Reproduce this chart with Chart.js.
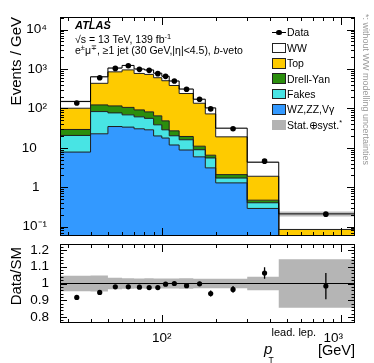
<!DOCTYPE html>
<html>
<head>
<meta charset="utf-8">
<script src="https://cdn.jsdelivr.net/npm/chart.js@4.4.1/dist/chart.umd.min.js"></script>
<style>
  body { margin: 0; background: #fff; }
  #wrap { position: relative; width: 374px; height: 363px; overflow: hidden; font-family: "Liberation Sans", Arial, sans-serif; }
  canvas { position: absolute; left: 0; }
  .t { position: absolute; white-space: nowrap; line-height: 1; color: #000; }
  .t sup { font-size: 0.7em; vertical-align: 0.5em; line-height: 0; }
  .lg { font-size: 10.5px; left: 287px; }
  .box { position: absolute; left: 272px; width: 13.5px; height: 10.5px; box-sizing: border-box; border: 1px solid #222; }
</style>
</head>
<body>
<div id="wrap">
  <canvas id="main" width="374" height="240" style="top:0"></canvas>
  <canvas id="ratio" width="374" height="123" style="top:240px"></canvas>

  <div class="t" style="left:75px;top:20.3px;font-size:11px;font-weight:bold;font-style:italic;">ATLAS</div>
  <div class="t" style="left:75px;top:33.9px;font-size:10.5px;">√s = 13 TeV, 139 fb<sup>-1</sup></div>
  <div class="t" style="left:75px;top:44.6px;font-size:10.5px;">e<sup>±</sup>μ<sup>∓</sup>, ≥1 jet (30 GeV,|η|&lt;4.5), <i>b</i>-veto</div>

  <div style="position:absolute;left:272px;top:32px;width:14px;height:1px;background:#000"></div>
  <div style="position:absolute;left:276.3px;top:29.8px;width:5.4px;height:5.4px;border-radius:50%;background:#000"></div>
  <div class="t lg" style="top:27.4px">Data</div>
  <div class="box" style="top:42.6px;background:#fff"></div>
  <div class="t lg" style="top:42.8px">WW</div>
  <div class="box" style="top:58px;background:#fecb00"></div>
  <div class="t lg" style="top:58.2px">Top</div>
  <div class="box" style="top:73.4px;background:#2b8e0d"></div>
  <div class="t lg" style="top:73.6px">Drell-Yan</div>
  <div class="box" style="top:88.8px;background:#48e4e4"></div>
  <div class="t lg" style="top:89px">Fakes</div>
  <div class="box" style="top:104.2px;background:#3399ff"></div>
  <div class="t lg" style="top:104.4px">WZ,ZZ,Vγ</div>
  <div class="box" style="top:119.6px;background:#b3b3b3;border:none"></div>
  <div class="t lg" style="top:119.8px">Stat.⊕syst.<sup>*</sup></div>

  <div class="t" style="left:8.3px;top:167px;width:150px;text-align:right;font-size:15px;transform-origin:0 0;transform:rotate(-90deg);">Events / GeV</div>
  <div class="t" style="left:8.3px;top:397px;width:150px;text-align:right;font-size:15px;transform-origin:0 0;transform:rotate(-90deg);">Data/SM</div>
  <div class="t" style="left:369.5px;top:14px;font-size:9px;color:#999;transform-origin:0 0;transform:rotate(90deg);">*: without WW modelling uncertainties</div>

  <div class="t" style="left:264px;top:341.3px;font-size:15px;font-style:italic;">p</div>
  <div class="t" style="left:268.5px;top:355.8px;font-size:8.5px;">T</div>
  <div class="t" style="left:271.5px;top:326.7px;font-size:11px;">lead. lep.</div>
  <div class="t" style="left:318px;top:342.7px;font-size:14.5px;">[GeV]</div>
</div>

<script>
// bin edges in GeV (lead. lepton pT)
const edges = [27, 40, 50, 60, 70, 80, 90, 100, 110, 125, 150, 175, 200, 300, 450, 1200];

// stacked backgrounds, events / GeV
const wzZZVgamma = [7.8, 22.7, 34.7, 33.5, 30.4, 28.6, 20.0, 17.7, 11.8, 8.8, 5.9, 3.1, 1.29, 0.29, 0.02];
const fakes      = [12.8, 60.3, 42.2, 35.0, 30.6, 27.3, 18.3, 10.9, 8.4, 7.2, 3.05, 2.43, 0.42, 0.114, 0.005];
const drellYan   = [8.6, 39.5, 38.7, 37.5, 30.6, 25.7, 26.4, 19.7, 6.8, 3.4, 2.05, 0.97, 0.38, 0.066, 0.005];
const topQuark   = [71.8, 310, 729, 841, 678, 646, 535, 455, 354, 219, 124, 66, 16.9, 1.43, 0.055];
const wwSignal   = [49, 201, 211, 283, 229, 217, 180, 150, 114, 71, 36, 30.4, 12.5, 2.42, 0.126];

// observed
const dataVals = [137, 600, 1035, 1205, 977, 922, 761, 650, 495, 305, 171, 97, 30.4, 4.59, 0.208];

// lower panel
const ratioVals = [0.917, 0.947, 0.98, 0.98, 0.978, 0.976, 0.976, 0.996, 1.0, 0.987, 0.998, 0.94, 0.965, 1.062, 0.985];
const ratioErr  = [0.012, 0.008, 0.006, 0.006, 0.006, 0.006, 0.007, 0.008, 0.008, 0.01, 0.013, 0.018, 0.02, 0.034, 0.078];
const systBand  = [0.046, 0.047, 0.034, 0.031, 0.03, 0.031, 0.03, 0.03, 0.03, 0.031, 0.029, 0.028, 0.028, 0.04, 0.145];

// axis ticks
const xMajor = [100, 1000];
const xMinor = [30, 40, 50, 60, 70, 80, 90, 200, 300, 400, 500, 600, 700, 800, 900];
const yLogLabels = { 0.1: '10⁻¹', 1: '1\u2007', 10: '10\u2007\u2009', 100: '10²', 1000: '10³', 10000: '10⁴' };
const ratioLabels = [0.8, 0.9, 1, 1.1, 1.2];

const FONT = '"Liberation Sans", Arial, sans-serif';
Chart.defaults.font.family = FONT;
const lineCol = '#1e1e1e';

const centers = edges.slice(0, -1).map((e, i) => (e + edges[i + 1]) / 2);
const steps = vals => edges.map((e, i) => ({ x: e, y: vals[Math.min(i, vals.length - 1)] }));
const addUp = (a, b) => a.map((v, i) => v + b[i]);

const c1 = wzZZVgamma;
const c2 = addUp(c1, fakes);
const c3 = addUp(c2, drellYan);
const c4 = addUp(c3, topQuark);
const c5 = addUp(c4, wwSignal);

function stepSet(vals, bg, fill, order, border) {
  return {
    data: steps(vals), stepped: 'before', fill, order,
    backgroundColor: bg, borderColor: border || lineCol, borderWidth: 1,
    pointRadius: 0
  };
}

// ticks drawn inwards on all four sides, ATLAS style
function frameTicks(yTicks) {
  return {
    id: 'frameTicks',
    afterDraw(chart) {
      const { ctx, chartArea: a, scales } = chart;
      ctx.save();
      ctx.strokeStyle = '#000';
      ctx.lineWidth = 1;
      ctx.beginPath();
      const xt = xMajor.map(v => [v, 8]).concat(xMinor.map(v => [v, 4]));
      xt.forEach(([v, len]) => {
        const px = Math.round(scales.x.getPixelForValue(v)) + 0.5;
        ctx.moveTo(px, a.bottom); ctx.lineTo(px, a.bottom - len);
        ctx.moveTo(px, a.top); ctx.lineTo(px, a.top + len);
      });
      yTicks.forEach(([v, len]) => {
        const py = Math.round(scales.y.getPixelForValue(v)) + 0.5;
        ctx.moveTo(a.left, py); ctx.lineTo(a.left + len, py);
        ctx.moveTo(a.right, py); ctx.lineTo(a.right - len, py);
      });
      ctx.stroke();
      ctx.strokeRect(a.left + 0.5, a.top + 0.5, a.right - a.left - 1, a.bottom - a.top - 1);
      ctx.restore();
    }
  };
}

function errorBars(vals, errs) {
  return {
    id: 'errorBars',
    afterDatasetsDraw(chart) {
      const { ctx, scales } = chart;
      ctx.save();
      ctx.strokeStyle = '#000';
      ctx.lineWidth = 1.3;
      ctx.beginPath();
      vals.forEach((v, i) => {
        const px = scales.x.getPixelForValue(centers[i]);
        ctx.moveTo(px, scales.y.getPixelForValue(v - errs[i]));
        ctx.lineTo(px, scales.y.getPixelForValue(v + errs[i]));
      });
      ctx.stroke();
      ctx.restore();
    }
  };
}

const noPad = s => { s.paddingTop = 0; s.paddingBottom = 0; s.paddingLeft = 0; s.paddingRight = 0; };
const tickFont = { family: FONT, size: 13.5 };

// ---------- main panel ----------
const logTicks = [];
for (let d = -2; d <= 4; d++) {
  for (let m = 1; m <= 9; m++) {
    const v = m * Math.pow(10, d);
    if (v >= 0.058 && v <= 20800) logTicks.push([+v.toPrecision(3), m === 1 ? 8 : 4]);
  }
}
const dataErrMain = dataVals.map((v, i) => v * ratioErr[i] / ratioVals[i]);

new Chart(document.getElementById('main'), {
  type: 'line',
  data: {
    datasets: [
      stepSet(c1, '#3399ff', 'start', 10),
      stepSet(c2, '#48e4e4', '-1', 9),
      stepSet(c3, '#2b8e0d', '-1', 8),
      stepSet(c4, '#fecb00', '-1', 7),
      stepSet(c5, '#ffffff', '-1', 6, '#000'),
      { data: steps(c5.map((v, i) => v * (1 - systBand[i]))), stepped: 'before', fill: false, borderWidth: 0, pointRadius: 0, order: 5 },
      { data: steps(c5.map((v, i) => v * (1 + systBand[i]))), stepped: 'before', fill: '-1', borderWidth: 0, pointRadius: 0, order: 4,
        backgroundColor: 'rgba(140,140,140,0.55)' },
      { data: centers.map((x, i) => ({ x, y: dataVals[i] })), showLine: false, order: 0,
        pointRadius: 2.8, pointBackgroundColor: '#000', pointBorderWidth: 0 }
    ]
  },
  options: {
    responsive: false, animation: false, devicePixelRatio: 1,
    layout: { padding: { left: 0, right: 19, top: 17, bottom: 3 } },
    plugins: { legend: { display: false }, tooltip: { enabled: false }, filler: { drawTime: 'beforeDatasetsDraw' } },
    scales: {
      x: { type: 'logarithmic', min: 27, max: 1200, display: false },
      y: {
        type: 'logarithmic', min: 0.058, max: 20800,
        grid: { display: false }, border: { display: false },
        afterBuildTicks: s => { s.ticks = logTicks.map(t => ({ value: t[0] })); },
        afterFit: s => { s.width = 60; noPad(s); },
        ticks: { autoSkip: false, padding: 5, color: '#000', font: tickFont,
          callback: v => yLogLabels[v] || '' }
      }
    }
  },
  plugins: [frameTicks(logTicks), errorBars(dataVals, dataErrMain)]
});

// ---------- ratio panel ----------
const ratioTicks = [];
for (let k = 39; k <= 61; k++) ratioTicks.push([k / 50, k % 5 === 0 ? 7 : 3.5]);

new Chart(document.getElementById('ratio'), {
  type: 'line',
  data: {
    datasets: [
      { data: steps(systBand.map(e => 1 - e)), stepped: 'before', fill: false, borderWidth: 0, pointRadius: 0, order: 3 },
      { data: steps(systBand.map(e => 1 + e)), stepped: 'before', fill: '-1', borderWidth: 0, pointRadius: 0, order: 2,
        backgroundColor: '#b5b5b5' },
      { data: [{ x: edges[0], y: 1 }, { x: edges[edges.length - 1], y: 1 }], borderColor: '#000', borderWidth: 1,
        pointRadius: 0, fill: false, order: 1 },
      { data: centers.map((x, i) => ({ x, y: ratioVals[i] })), showLine: false, order: 0,
        pointRadius: 2.6, pointBackgroundColor: '#000', pointBorderWidth: 0 }
    ]
  },
  options: {
    responsive: false, animation: false, devicePixelRatio: 1,
    layout: { padding: { left: 0, right: 19, top: 4, bottom: 0 } },
    plugins: { legend: { display: false }, tooltip: { enabled: false }, filler: { drawTime: 'beforeDatasetsDraw' } },
    scales: {
      x: {
        type: 'logarithmic', min: 27, max: 1200,
        grid: { display: false }, border: { display: false },
        afterBuildTicks: s => { s.ticks = xMinor.concat(xMajor).sort((a, b) => a - b).map(v => ({ value: v })); },
        afterFit: s => { s.height = 40; noPad(s); },
        ticks: { autoSkip: false, maxRotation: 0, padding: -1, color: '#000', font: tickFont,
          callback: v => v === 100 ? '10²' : v === 1000 ? '10³\u2007\u2007' : '' }
      },
      y: {
        min: 0.765, max: 1.235,
        grid: { display: false }, border: { display: false },
        afterBuildTicks: s => { s.ticks = ratioTicks.map(t => ({ value: t[0] })); },
        afterFit: s => { s.width = 60; noPad(s); },
        ticks: { autoSkip: false, padding: 3, color: '#000', font: tickFont,
          callback: v => ratioLabels.some(r => Math.abs(r - v) < 1e-6) ? String(+v.toFixed(1)) : '' }
      }
    }
  },
  plugins: [frameTicks(ratioTicks), errorBars(ratioVals, ratioErr)]
});
</script>
</body>
</html>
